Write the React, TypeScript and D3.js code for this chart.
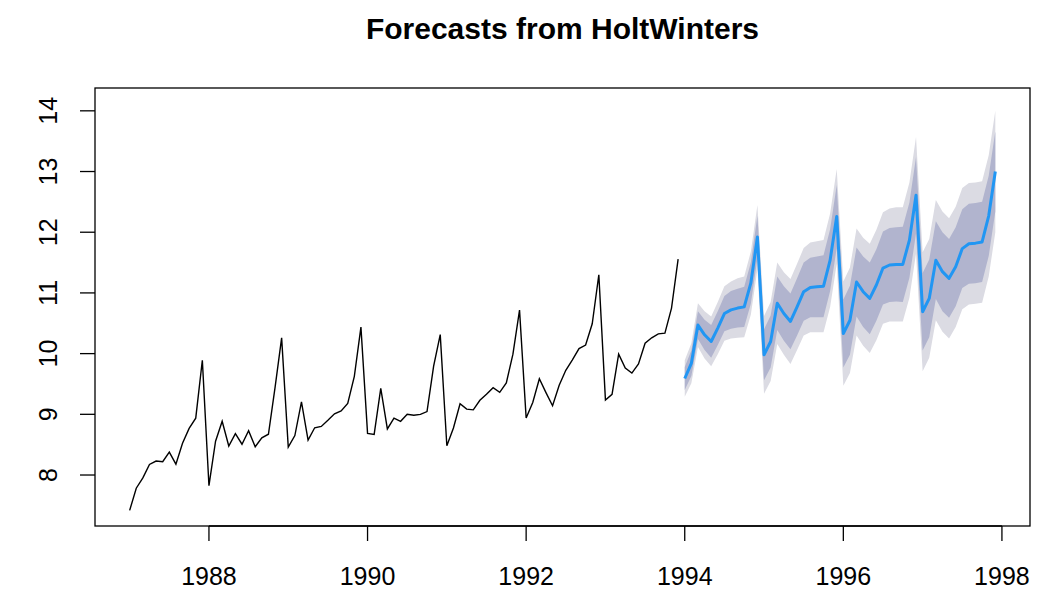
import * as d3 from "d3";

const W = 1060;
const H = 605;
const BOX = { left: 95, right: 1030, top: 88, bottom: 526 };

// observed series (log scale), monthly from Jan 1987
const START = 1987;
const observed = [
  7.417, 7.782, 7.952, 8.174, 8.230, 8.220, 8.378, 8.179, 8.522, 8.768, 8.936, 9.891,
  7.824, 8.556, 8.885, 8.478, 8.683, 8.507, 8.729, 8.466, 8.612, 8.672, 9.441, 10.259,
  8.459, 8.649, 9.206, 8.576, 8.778, 8.800, 8.902, 9.009, 9.056, 9.179, 9.626, 10.436,
  8.686, 8.668, 9.427, 8.759, 8.937, 8.885, 9.002, 8.985, 8.999, 9.045, 9.793, 10.313,
  8.482, 8.775, 9.174, 9.085, 9.074, 9.231, 9.330, 9.438, 9.362, 9.518, 9.991, 10.716,
  8.938, 9.195, 9.586, 9.358, 9.141, 9.479, 9.725, 9.898, 10.083, 10.142, 10.492, 11.299,
  9.234, 9.330, 9.991, 9.762, 9.680, 9.831, 10.172, 10.261, 10.326, 10.336, 10.750, 11.558,
];

// point forecasts, monthly from Jan 1994
const FC_START = 1994;
const forecast = [
  9.59, 9.84, 10.47, 10.31, 10.20, 10.42, 10.66, 10.72, 10.75, 10.77, 11.16, 11.92,
  9.98, 10.20, 10.83, 10.66, 10.53, 10.77, 11.02, 11.09, 11.10, 11.11, 11.54, 12.26,
  10.33, 10.55, 11.18, 11.02, 10.91, 11.13, 11.41, 11.46, 11.47, 11.47, 11.87, 12.61,
  10.69, 10.91, 11.54, 11.35, 11.24, 11.43, 11.73, 11.81, 11.82, 11.84, 12.27, 13.0,
];

// half widths of the 80% and 95% intervals
const width80 = [
  0.19, 0.21, 0.23, 0.25, 0.27, 0.28, 0.29, 0.31, 0.32, 0.33, 0.34, 0.35,
  0.42, 0.43, 0.44, 0.45, 0.46, 0.47, 0.48, 0.49, 0.50, 0.51, 0.51, 0.52,
  0.56, 0.57, 0.57, 0.58, 0.59, 0.59, 0.60, 0.61, 0.61, 0.62, 0.62, 0.63,
  0.64, 0.64, 0.64, 0.65, 0.65, 0.65, 0.65, 0.66, 0.66, 0.66, 0.66, 0.66,
];
const width95 = [
  0.30, 0.33, 0.36, 0.39, 0.41, 0.43, 0.45, 0.47, 0.49, 0.50, 0.52, 0.53,
  0.64, 0.65, 0.67, 0.68, 0.70, 0.71, 0.72, 0.74, 0.75, 0.76, 0.77, 0.78,
  0.86, 0.87, 0.88, 0.89, 0.90, 0.91, 0.92, 0.93, 0.94, 0.94, 0.95, 0.96,
  0.98, 0.98, 0.99, 0.99, 0.99, 0.99, 1.00, 1.00, 1.00, 1.00, 1.00, 1.00,
];

const xTicks = [1988, 1990, 1992, 1994, 1996, 1998];
const yTicks = [8, 9, 10, 11, 12, 13, 14];

const FONT = "'Liberation Sans', Arial, sans-serif";

type Pt = { t: number; v: number };
type Band = { t: number; lo: number; hi: number };

export default function App() {
  const x = d3.scaleLinear().domain([1986.563, 1998.354]).range([BOX.left, BOX.right]);
  const y = d3.scaleLinear().domain([7.16, 14.376]).range([BOX.bottom, BOX.top]);

  const obs: Pt[] = observed.map((v, i) => ({ t: START + i / 12, v }));
  const fc: Pt[] = forecast.map((v, i) => ({ t: FC_START + i / 12, v }));
  const band = (w: number[]): Band[] =>
    forecast.map((v, i) => ({ t: FC_START + i / 12, lo: v - w[i], hi: v + w[i] }));

  const line = d3
    .line<Pt>()
    .x((d) => x(d.t))
    .y((d) => y(d.v));
  const area = d3
    .area<Band>()
    .x((d) => x(d.t))
    .y0((d) => y(d.lo))
    .y1((d) => y(d.hi));

  return (
    <svg
      width={W}
      height={H}
      style={{ position: "absolute", left: 0, top: 0, background: "#fff" }}
    >
      <text
        x={(BOX.left + BOX.right) / 2}
        y={39}
        textAnchor="middle"
        fontFamily={FONT}
        fontWeight="bold"
        fontSize={30}
        fill="#000"
      >
        Forecasts from HoltWinters
      </text>

      <path d={area(band(width95)) ?? ""} fill="#dbdbe3" />
      <path d={area(band(width80)) ?? ""} fill="#b1b4ce" />
      <path d={line(fc) ?? ""} fill="none" stroke="#2196f3" strokeWidth={3} strokeLinejoin="round" />
      <path d={line(obs) ?? ""} fill="none" stroke="#000" strokeWidth={1.4} />

      <rect
        x={BOX.left}
        y={BOX.top}
        width={BOX.right - BOX.left}
        height={BOX.bottom - BOX.top}
        fill="none"
        stroke="#000"
        strokeWidth={1.3}
      />

      {/* x axis */}
      <line x1={x(1988)} x2={x(1998)} y1={BOX.bottom} y2={BOX.bottom} stroke="#000" strokeWidth={1.3} />
      {xTicks.map((t) => (
        <g key={t}>
          <line x1={x(t)} x2={x(t)} y1={BOX.bottom} y2={BOX.bottom + 15} stroke="#000" strokeWidth={1.3} />
          <text
            x={x(t)}
            y={585}
            textAnchor="middle"
            fontFamily={FONT}
            fontSize={25}
            fill="#000"
          >
            {t}
          </text>
        </g>
      ))}

      {/* y axis */}
      {yTicks.map((v) => (
        <g key={v}>
          <line x1={BOX.left - 15} x2={BOX.left} y1={y(v)} y2={y(v)} stroke="#000" strokeWidth={1.3} />
          <text
            transform={`translate(57,${y(v)}) rotate(-90)`}
            textAnchor="middle"
            fontFamily={FONT}
            fontSize={25}
            fill="#000"
          >
            {v}
          </text>
        </g>
      ))}
    </svg>
  );
}
